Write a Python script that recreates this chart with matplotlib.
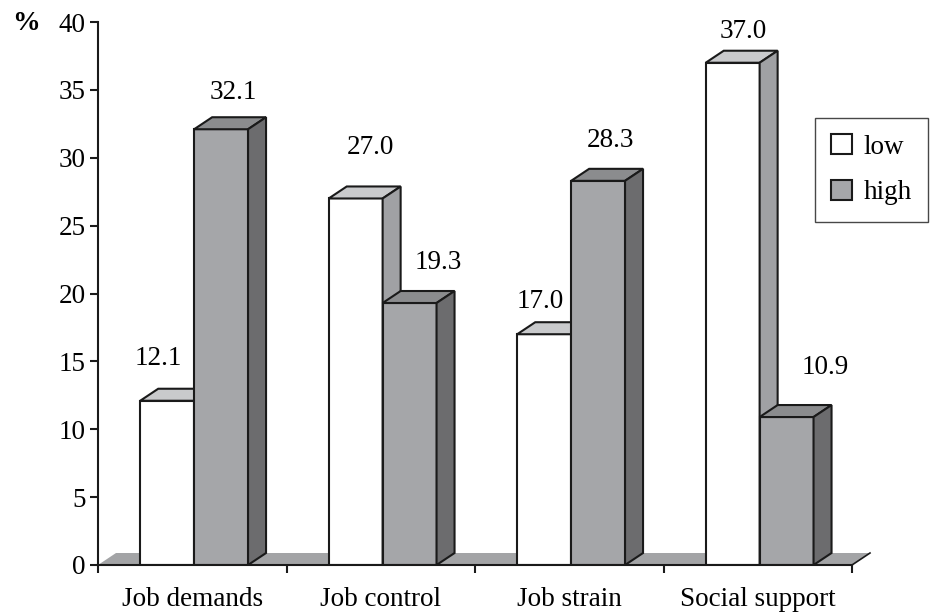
import matplotlib
matplotlib.use("Agg")
import matplotlib.pyplot as plt
from matplotlib.patches import Polygon, Patch
import numpy as np

categories = ["Job demands", "Job control", "Job strain", "Social support"]
low_values = [12.1, 27.0, 17.0, 37.0]
high_values = [32.1, 19.3, 28.3, 10.9]
low_labels = ["12.1", "27.0", "17.0", "37.0"]
high_labels = ["32.1", "19.3", "28.3", "10.9"]
y_ticks = [0, 5, 10, 15, 20, 25, 30, 35, 40]

# label nudges in pixels (dx from front centre, dy above front top)
low_nudge = [(-9, 42), (15, 51), (-4, 33), (11, 31)]
high_nudge = [(12, 37), (29, 41), (12, 40), (39, 50)]

plt.rcParams['font.family'] = ['Liberation Serif', 'DejaVu Serif']

W, H = 931, 615
fig = plt.figure(figsize=(W / 100, H / 100), dpi=100)
L, R, T, B = 98, 852, 22, 565
ax = fig.add_axes([L / W, 1 - B / H, (R - L) / W, (B - T) / H])
ax.set_xlim(-0.5, 3.5)
ax.set_ylim(0, 40)

px_x = (R - L) / 4.0
px_y = (B - T) / 40.0
DX = 18 / px_x
DY = 12 / px_y

edge = "#1a1a1a"
lw = 1.5
c_low_front = "#ffffff"
c_low_top = "#c9cacc"
c_low_side = "#a0a1a4"
c_high_front = "#a5a6a9"
c_high_top = "#8b8c8e"
c_high_side = "#6c6c6e"
c_floor = "#a3a4a6"

# floor
floor = Polygon([(-0.5, 0), (3.5, 0), (3.5 + DX, DY), (-0.5 + DX, DY)],
                closed=True, facecolor=c_floor, edgecolor="none",
                zorder=1, clip_on=False)
ax.add_patch(floor)
ax.plot([3.5, 3.5 + DX], [0, DY], color=edge, lw=1.2, clip_on=False, zorder=1.5)

x = np.arange(len(categories))
w = 0.286
shift = 0.01
x_low = x - w / 2 + shift
x_high = x + w / 2 + shift


def draw_bars(xc, vals, cf, ct, cs, z):
    bars = ax.bar(xc, vals, width=w, color=cf, edgecolor=edge, linewidth=lw, zorder=z)
    for b in bars:
        x0 = b.get_x()
        x1 = x0 + b.get_width()
        v = b.get_height()
        top = Polygon([(x0, v), (x1, v), (x1 + DX, v + DY), (x0 + DX, v + DY)],
                      closed=True, facecolor=ct, edgecolor=edge, linewidth=lw,
                      joinstyle="miter", zorder=z, clip_on=False)
        side = Polygon([(x1, 0), (x1 + DX, DY), (x1 + DX, v + DY), (x1, v)],
                       closed=True, facecolor=cs, edgecolor=edge, linewidth=lw,
                       joinstyle="miter", zorder=z, clip_on=False)
        ax.add_patch(top)
        ax.add_patch(side)
    return bars


draw_bars(x_low, low_values, c_low_front, c_low_top, c_low_side, 3)
draw_bars(x_high, high_values, c_high_front, c_high_top, c_high_side, 4)

fs = 19.5
for xc, v, lab, (nx, ny) in zip(x_low, low_values, low_labels, low_nudge):
    ax.text(xc + nx / px_x, v + ny / px_y, lab, ha="center", va="center",
            fontsize=fs, zorder=6)
for xc, v, lab, (nx, ny) in zip(x_high, high_values, high_labels, high_nudge):
    ax.text(xc + nx / px_x, v + ny / px_y, lab, ha="center", va="center",
            fontsize=fs, zorder=6)

# axes styling
for s in ["top", "right"]:
    ax.spines[s].set_visible(False)
for s in ["left", "bottom"]:
    ax.spines[s].set_linewidth(1.5)
    ax.spines[s].set_color(edge)
    ax.spines[s].set_zorder(5)

ax.set_yticks(y_ticks)
ax.set_yticklabels([str(t) for t in y_ticks])
ax.tick_params(axis="y", direction="out", length=6, width=1.5, pad=3,
               labelsize=fs, color=edge)
ax.set_xticks(x)
ax.set_xticklabels(categories)
ax.set_xticks(np.arange(-0.5, 4.0, 1.0), minor=True)
ax.tick_params(axis="x", which="major", length=0, pad=16, labelsize=fs)
ax.tick_params(axis="x", which="minor", direction="out", length=6, width=1.5,
               color=edge)

fig.text(26 / W, 1 - 23 / H, "%", fontsize=20, fontweight="bold",
         ha="center", va="center")

handles = [Patch(facecolor=c_low_front, edgecolor=edge, linewidth=1.5, label="low"),
           Patch(facecolor=c_high_front, edgecolor=edge, linewidth=1.5, label="high")]
leg = fig.legend(handles=handles, loc="upper left",
                 bbox_to_anchor=(815 / W, 1 - 118 / H),
                 fontsize=fs, frameon=True, fancybox=False, shadow=False,
                 handlelength=0.75, handleheight=0.75, handletextpad=0.45,
                 borderpad=0.6, labelspacing=0.75, borderaxespad=0)
leg.get_frame().set_edgecolor(edge)
leg.get_frame().set_linewidth(1.0)

fig.savefig("out.png", dpi=100)
